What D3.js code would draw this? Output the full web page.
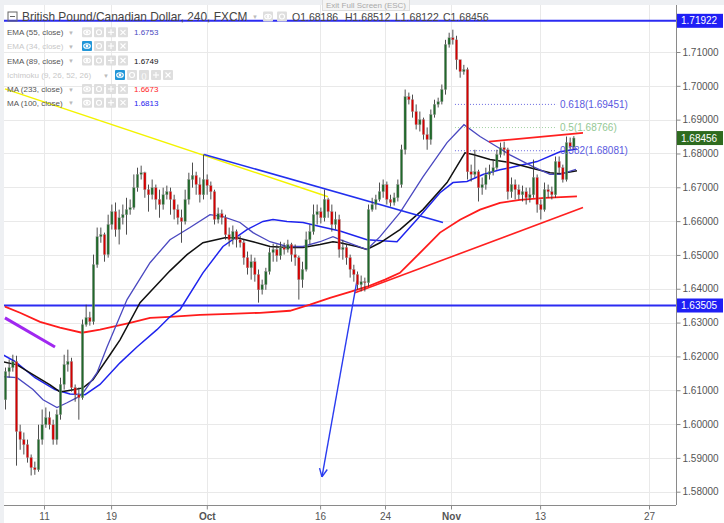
<!DOCTYPE html>
<html><head><meta charset="utf-8">
<script src="https://cdn.jsdelivr.net/npm/d3@7"></script>
<style>body{margin:0;background:#fff;} svg{display:block;font-family:"Liberation Sans",Arial,sans-serif;}</style>
</head><body><svg id="c" width="724" height="523"></svg>
<script>
// ---------- DATA ----------
const title = "British Pound/Canadian Dollar, 240, FXCM";
const ohlcItems = ["O1.68186","H1.68512","L1.68122","C1.68456"];
const startDay = -3.5, candlesPerDay = 3;   // trading-day index of first candle (Sep 11 = 0)
const firstOpen = 1.6072;
const closes = [
1.6155,1.6167,1.6185,1.5978,1.5954,1.5939,1.5901,1.5871,1.5865,1.5954,
1.5998,1.6019,1.5998,1.5954,1.6028,1.6117,1.6176,1.6185,1.6108,1.6087,
1.6078,1.6294,1.6315,1.6303,1.6471,1.6554,1.6560,1.6501,1.6590,1.6628,
1.6575,1.6610,1.6619,1.6634,1.6640,1.6699,1.6738,1.6743,1.6693,1.6678,
1.6699,1.6664,1.6649,1.6678,1.6687,1.6664,1.6634,1.6610,1.6599,1.6664,
1.6723,1.6735,1.6708,1.6678,1.6723,1.6705,1.6687,1.6605,1.6622,1.6610,
1.6560,1.6545,1.6569,1.6545,1.6536,1.6492,1.6462,1.6480,1.6442,1.6397,
1.6412,1.6451,1.6507,1.6516,1.6498,1.6522,1.6516,1.6531,1.6501,1.6492,
1.6427,1.6457,1.6545,1.6569,1.6619,1.6628,1.6610,1.6664,1.6628,1.6590,
1.6605,1.6516,1.6522,1.6492,1.6457,1.6442,1.6412,1.6421,1.6418,1.6634,
1.6649,1.6664,1.6687,1.6708,1.6664,1.6655,1.6669,1.6708,1.6811,1.6968,
1.6959,1.6924,1.6885,1.6900,1.6856,1.6841,1.6915,1.6945,1.6953,1.6989,
1.7122,1.7142,1.7136,1.7077,1.7042,1.7048,1.6746,1.6738,1.6746,1.6699,
1.6708,1.6738,1.6746,1.6758,1.6797,1.6817,1.6811,1.6687,1.6708,1.6693,
1.6678,1.6687,1.6669,1.6678,1.6729,1.6649,1.6634,1.6693,1.6687,1.6678,
1.6776,1.6758,1.6723,1.6832,1.6819,1.68456];
const highs = [
1.6167,1.6191,1.6205,1.6202,1.5998,1.5975,1.5954,1.5910,1.5889,1.5998,
1.6043,1.6049,1.6037,1.6013,1.6043,1.6137,1.6205,1.6220,1.6196,1.6117,
1.6108,1.6309,1.6353,1.6332,1.6501,1.6581,1.6581,1.6566,1.6619,1.6649,
1.6655,1.6634,1.6649,1.6669,1.6664,1.6738,1.6758,1.6764,1.6746,1.6708,
1.6723,1.6708,1.6693,1.6699,1.6705,1.6699,1.6678,1.6649,1.6634,1.6693,
1.6743,1.6773,1.6746,1.6729,1.6797,1.6738,1.6717,1.6693,1.6640,1.6634,
1.6619,1.6581,1.6587,1.6575,1.6557,1.6545,1.6510,1.6501,1.6492,1.6457,
1.6427,1.6462,1.6522,1.6533,1.6531,1.6539,1.6536,1.6545,1.6536,1.6531,
1.6498,1.6480,1.6569,1.6590,1.6649,1.6649,1.6640,1.6693,1.6669,1.6649,
1.6628,1.6619,1.6545,1.6531,1.6501,1.6471,1.6451,1.6439,1.6433,1.6649,
1.6669,1.6678,1.6714,1.6723,1.6717,1.6678,1.6684,1.6723,1.6826,1.6989,
1.6980,1.6974,1.6945,1.6924,1.6906,1.6877,1.6930,1.6959,1.6965,1.7004,
1.7136,1.7157,1.7166,1.7148,1.7077,1.7062,1.7054,1.6767,1.6811,1.6752,
1.6729,1.6758,1.6767,1.6782,1.6811,1.6832,1.6835,1.6817,1.6729,1.6723,
1.6708,1.6705,1.6699,1.6699,1.6782,1.6738,1.6664,1.6714,1.6708,1.6702,
1.6791,1.6791,1.6767,1.6850,1.6847,1.68512];
const lows = [
1.6043,1.6137,1.6155,1.5877,1.5924,1.5910,1.5886,1.5848,1.5850,1.5859,
1.5939,1.5989,1.5984,1.5939,1.5939,1.6013,1.6102,1.6155,1.6096,1.6066,
1.6013,1.6072,1.6288,1.6291,1.6294,1.6462,1.6536,1.6480,1.6492,1.6575,
1.6554,1.6531,1.6590,1.6560,1.6619,1.6634,1.6687,1.6723,1.6669,1.6628,
1.6664,1.6634,1.6610,1.6634,1.6664,1.6619,1.6605,1.6590,1.6536,1.6590,
1.6649,1.6699,1.6678,1.6655,1.6664,1.6678,1.6664,1.6590,1.6593,1.6590,
1.6545,1.6525,1.6531,1.6522,1.6522,1.6471,1.6442,1.6427,1.6421,1.6359,
1.6383,1.6397,1.6442,1.6480,1.6480,1.6486,1.6501,1.6507,1.6480,1.6468,
1.6368,1.6403,1.6451,1.6531,1.6560,1.6590,1.6593,1.6599,1.6610,1.6569,
1.6575,1.6492,1.6486,1.6471,1.6433,1.6421,1.6397,1.6392,1.6392,1.6406,
1.6628,1.6634,1.6658,1.6669,1.6649,1.6643,1.6646,1.6658,1.6699,1.6797,
1.6945,1.6906,1.6871,1.6865,1.6841,1.6811,1.6826,1.6906,1.6936,1.6945,
1.6974,1.7113,1.7122,1.7048,1.7024,1.7033,1.6723,1.6717,1.6729,1.6658,
1.6678,1.6693,1.6723,1.6735,1.6752,1.6788,1.6794,1.6664,1.6669,1.6664,
1.6664,1.6658,1.6649,1.6655,1.6669,1.6625,1.6605,1.6628,1.6669,1.6664,
1.6669,1.6738,1.6714,1.6717,1.6811,1.68122];

// indicator lines: [trading day, price]
const ema55 = [[-3.73,1.6140],[-2.45,1.6137],[-1.0,1.6102],[-0.09,1.6072],[1.18,1.6049],[2.09,1.6063],[3.0,1.6078],[3.55,1.6092],[4.82,1.6152],[5.73,1.6228],[7.55,1.6368],[9.64,1.6477],[11.45,1.6545],[13.27,1.6581],[15.09,1.6619],[16.27,1.6613],[17.82,1.6596],[19.0,1.6566],[20.55,1.6539],[22.09,1.6525],[23.55,1.6525],[25.09,1.6539],[26.27,1.6554],[26.91,1.6545],[29.36,1.6516],[30.55,1.6554],[32.36,1.6625],[34.45,1.6731],[36.64,1.6832],[38.18,1.6885],[39.64,1.6850],[41.18,1.6820],[42.36,1.6796],[44.45,1.6761],[46.0,1.6738],[46.91,1.6738],[48.36,1.6753]];
const ema89 = [[-3.73,1.6184],[-2.45,1.6175],[-1.0,1.6146],[0.55,1.6116],[1.45,1.6095],[2.55,1.6101],[3.55,1.6107],[4.45,1.6131],[6.0,1.6205],[6.91,1.6249],[8.73,1.6359],[11.45,1.6453],[13.0,1.6501],[14.45,1.6536],[16.45,1.6551],[17.55,1.6551],[19.0,1.6539],[20.55,1.6525],[22.09,1.6522],[23.55,1.6522],[25.09,1.6531],[26.27,1.6539],[26.91,1.6536],[28.45,1.6525],[29.36,1.6516],[30.55,1.6536],[32.36,1.6575],[34.45,1.6634],[36.64,1.6714],[38.27,1.6802],[39.0,1.6797],[40.55,1.6782],[42.36,1.6773],[44.18,1.6758],[46.0,1.6743],[46.91,1.6740],[48.45,1.6749]];
const ma100 = [[-3.73,1.6205],[-2.64,1.6185],[-0.82,1.6137],[1.0,1.6102],[2.36,1.6089],[3.73,1.6087],[5.09,1.6117],[6.91,1.6181],[8.45,1.6228],[10.27,1.6279],[11.45,1.6317],[12.36,1.6338],[14.45,1.6447],[16.27,1.6525],[18.45,1.6575],[19.91,1.6599],[20.82,1.6605],[22.09,1.6599],[23.55,1.6596],[25.09,1.6584],[26.91,1.6571],[29.36,1.6545],[32.09,1.6539],[33.91,1.6605],[36.0,1.6684],[37.18,1.6714],[38.45,1.6717],[39.91,1.6738],[41.45,1.6752],[42.36,1.6758],[44.82,1.6776],[46.91,1.6805],[48.45,1.6813]];
const ma233 = [[-3.55,1.6347],[-2.18,1.6329],[-0.36,1.6302],[1.45,1.6285],[3.45,1.6270],[5.09,1.6279],[7.82,1.6299],[9.64,1.6314],[11.45,1.6317],[14.18,1.6323],[16.91,1.6326],[19.64,1.6329],[22.36,1.6335],[24.18,1.6353],[26.0,1.6373],[27.82,1.6391],[29.36,1.6406],[31.0,1.6427],[32.36,1.6447],[34.45,1.6515],[36.0,1.6566],[37.82,1.6604],[39.64,1.6634],[41.45,1.6654],[43.27,1.6663],[45.55,1.6669],[48.45,1.6673]];

// drawings
const yellowLine = [[-3.55,1.6991],[25.82,1.6672]];
const blueTrend = [[14.55,1.6797],[36.27,1.6596]];
const purpleLine = [[-3.55,1.6314],[1.0,1.6228]];
const redSupport = [[28.27,1.6388],[49.0,1.6640]];
const redResist = [[40.45,1.6835],[49.0,1.6861]];
const arrowLine = [[28.45,1.6424],[25.27,1.5844]];
const hLevels = [1.71922, 1.63505];
const lastPrice = 1.68456;
const fibLevels = [0.618, 0.5, 0.382];
const fibPrices = [1.69451, 1.68766, 1.68081];
const fibSpan = [37.36, 46.64];

const xTickDays = [0, 6.1, 14.8, 25.1, 31, 37, 45.1, 55];
const xTickLabels = ['11','19','Oct','16','24','Nov','13','27'];
const yTicks = [1.58,1.59,1.60,1.61,1.62,1.63,1.64,1.65,1.66,1.67,1.68,1.69,1.70,1.71];

const legendNames = ['EMA (55, close)','EMA (34, close)','EMA (89, close)','Ichimoku (9, 26, 52, 26)','MA (233, close)','MA (100, close)'];
const legendValues = ['1.6753','','1.6749','','1.6673','1.6813'];

// ---------- CHART ----------
const svg = d3.select('#c');
const L=4, R=676, T=5, B=505;
const x = d3.scaleLinear().domain([0,55]).range([44,649]);
const y = d3.scaleLinear().domain([1.58,1.71]).range([491.7,52]);

svg.append('rect').attr('width',724).attr('height',523).attr('fill','#fff');
svg.append('rect').attr('x',0).attr('y',0).attr('width',724).attr('height',T).attr('fill','#eef0f3');
svg.append('rect').attr('x',0).attr('y',0).attr('width',L).attr('height',523).attr('fill','#eef0f3');

// grid
const grid = svg.append('g');
grid.selectAll('.hg').data(yTicks).enter().append('line')
  .attr('x1',L).attr('x2',R).attr('y1',d=>Math.round(y(d))+0.5).attr('y2',d=>Math.round(y(d))+0.5)
  .attr('stroke','#e9e9e9').attr('stroke-width',1);
grid.selectAll('.vg').data(xTickDays).enter().append('line')
  .attr('y1',T).attr('y2',B).attr('x1',d=>Math.round(x(d))+0.5).attr('x2',d=>Math.round(x(d))+0.5)
  .attr('stroke','#e9e9e9').attr('stroke-width',1);

svg.append('clipPath').attr('id','clip').append('rect').attr('x',L).attr('y',T).attr('width',R-L).attr('height',B-T);
const plot = svg.append('g').attr('clip-path','url(#clip)');

const line = d3.line().x(d=>x(d[0])).y(d=>y(d[1]));

// horizontal levels
plot.selectAll('.hl').data(hLevels).enter().append('line')
  .attr('x1',L).attr('x2',R).attr('y1',d=>y(d)).attr('y2',d=>y(d))
  .attr('stroke','#2b2bf2').attr('stroke-width',2);

// fib
const fibColors = ['#6a6ae0','#9fd09f','#6a6ae0'];
plot.selectAll('.fl').data(fibPrices).enter().append('line')
  .attr('x1',x(fibSpan[0])).attr('x2',x(fibSpan[1])).attr('y1',d=>y(d)).attr('y2',d=>y(d))
  .attr('stroke',(d,i)=>fibColors[i]).attr('stroke-width',1).attr('stroke-dasharray','1,2');

// moving averages
plot.append('path').datum(ma233).attr('d',line).attr('fill','none').attr('stroke','#ff1c1c').attr('stroke-width',1.8);
plot.append('path').datum(ma100).attr('d',line).attr('fill','none').attr('stroke','#1f24ee').attr('stroke-width',1.5);
plot.append('path').datum(ema89).attr('d',line).attr('fill','none').attr('stroke','#111').attr('stroke-width',1.5);
plot.append('path').datum(ema55).attr('d',line).attr('fill','none').attr('stroke','#4a48c0').attr('stroke-width',1.3);

// drawings
plot.append('path').datum(yellowLine).attr('d',line).attr('stroke','#f3f300').attr('stroke-width',1.5);
plot.append('path').datum(blueTrend).attr('d',line).attr('stroke','#2230ee').attr('stroke-width',1.6);
plot.append('path').datum(purpleLine).attr('d',line).attr('stroke','#a028f0').attr('stroke-width',3);
plot.append('path').datum(redSupport).attr('d',line).attr('stroke','#ff2020').attr('stroke-width',1.6);
plot.append('path').datum(redResist).attr('d',line).attr('stroke','#ff2020').attr('stroke-width',1.6);
plot.append('path').datum(arrowLine).attr('d',line).attr('stroke','#2a3cf0').attr('stroke-width',1.4);
// arrow head
{
  const x0=x(arrowLine[0][0]), y0=y(arrowLine[0][1]), x1=x(arrowLine[1][0]), y1=y(arrowLine[1][1]);
  const a=Math.atan2(y1-y0,x1-x0), len=9;
  [-0.45,0.45].forEach(s=>{
    plot.append('line').attr('x1',x1).attr('y1',y1)
      .attr('x2',x1-len*Math.cos(a+s)).attr('y2',y1-len*Math.sin(a+s))
      .attr('stroke','#2a3cf0').attr('stroke-width',1.4);
  });
}

// candles
const candles = closes.map((c,i)=>({t:startDay+i/candlesPerDay, o:i?closes[i-1]:firstOpen, h:highs[i], l:lows[i], c}));
const cg = plot.append('g');
cg.selectAll('.wick').data(candles).enter().append('line')
  .attr('x1',d=>x(d.t)).attr('x2',d=>x(d.t)).attr('y1',d=>y(d.h)).attr('y2',d=>y(d.l))
  .attr('stroke','#3a3a3a').attr('stroke-width',0.9);
cg.selectAll('.body').data(candles).enter().append('rect')
  .attr('x',d=>x(d.t)-1.2).attr('width',2.4)
  .attr('y',d=>y(Math.max(d.o,d.c))).attr('height',d=>Math.max(1,Math.abs(y(d.o)-y(d.c))))
  .attr('fill',d=>d.c>=d.o?'#21692b':'#d60000').attr('stroke','#999').attr('stroke-width',0.4);

// fib labels
svg.selectAll('.fibt').data(fibPrices).enter().append('text')
  .attr('x',560).attr('y',d=>y(d)+3.5).attr('font-size',10).attr('fill',(d,i)=>i===1?'#94c894':'#5a5ae0')
  .text((d,i)=>fibLevels[i]+'('+d.toFixed(5)+')');

// axes
svg.append('line').attr('x1',R+0.5).attr('x2',R+0.5).attr('y1',T).attr('y2',B).attr('stroke','#8a8a8a');
svg.append('line').attr('x1',L).attr('x2',R).attr('y1',B+0.5).attr('y2',B+0.5).attr('stroke','#8a8a8a');
const ya = svg.append('g').attr('transform',`translate(${R+0.5},0)`)
  .call(d3.axisRight(y).tickValues(yTicks).tickFormat(d=>d.toFixed(5)).tickSize(4).tickPadding(2));
ya.select('.domain').remove();
ya.selectAll('line').attr('stroke','#8a8a8a');
ya.selectAll('text').attr('fill','#555').attr('font-size',10).attr('font-family','Liberation Sans, Arial, sans-serif');
const xa = svg.append('g').attr('transform',`translate(0,${B+0.5})`)
  .call(d3.axisBottom(x).tickValues(xTickDays).tickFormat((d,i)=>xTickLabels[i]).tickSize(4).tickPadding(3));
xa.select('.domain').remove();
xa.selectAll('line').attr('stroke','#8a8a8a');
xa.selectAll('text').attr('fill','#555').attr('font-size',10).attr('font-family','Liberation Sans, Arial, sans-serif')
  .attr('font-weight',(d,i)=>(xTickLabels[i]==='Oct'||xTickLabels[i]==='Nov')?'bold':'normal');

// price label boxes
const boxes = [{p:hLevels[0],c:'#1f1ff5'},{p:lastPrice,c:'#2e6b1f'},{p:hLevels[1],c:'#1f1ff5'}];
boxes.forEach(b=>{
  const yy=y(b.p);
  svg.append('rect').attr('x',R+1).attr('y',yy-7).attr('width',46).attr('height',14).attr('fill',b.c);
  svg.append('text').attr('x',R+5).attr('y',yy+3.5).attr('font-size',10).attr('fill','#fff').text(b.p.toFixed(5));
});

// header
svg.append('rect').attr('x',8).attr('y',12).attr('width',9).attr('height',9).attr('fill','none').attr('stroke','#666');
svg.append('line').attr('x1',10).attr('x2',15).attr('y1',16.5).attr('y2',16.5).attr('stroke','#666');
svg.append('text').attr('x',22).attr('y',21).attr('font-size',11.9).attr('fill','#444').text(title);
svg.append('text').attr('x',252).attr('y',19).attr('font-size',6).attr('fill','#bbb').text('▼');
function icon(xx,yy,kind,active){
  svg.append('rect').attr('x',xx).attr('y',yy-5).attr('width',10).attr('height',10).attr('rx',1)
    .attr('fill',active?'#2196d8':'#dedede');
  const g=svg.append('g').attr('stroke','#fff').attr('fill','none').attr('stroke-width',1.1);
  const cx=xx+5, cy=yy;
  if(kind==='eye'){g.append('ellipse').attr('cx',cx).attr('cy',cy).attr('rx',3.3).attr('ry',2.3);g.append('circle').attr('cx',cx).attr('cy',cy).attr('r',0.9).attr('fill','#fff');}
  else if(kind==='gear'){g.append('circle').attr('cx',cx).attr('cy',cy).attr('r',2.5);}
  else if(kind==='plus'){g.append('line').attr('x1',cx-3).attr('x2',cx+3).attr('y1',cy).attr('y2',cy);g.append('line').attr('x1',cx).attr('x2',cx).attr('y1',cy-3).attr('y2',cy+3);}
  else if(kind==='x'){g.append('line').attr('x1',cx-2.5).attr('x2',cx+2.5).attr('y1',cy-2.5).attr('y2',cy+2.5);g.append('line').attr('x1',cx-2.5).attr('x2',cx+2.5).attr('y1',cy+2.5).attr('y2',cy-2.5);}
  else if(kind==='par'){g.append('text').attr('x',cx).attr('y',cy+3).attr('text-anchor','middle').attr('font-size',8).attr('fill','#fff').attr('stroke','none').text('()');}
}
icon(263,16.5,'eye',false); icon(277,16.5,'gear',false);
const ohlcX = [292, 345, 395, 443];
ohlcItems.forEach((t,i)=>svg.append('text').attr('x',ohlcX[i]).attr('y',21).attr('font-size',10.5).attr('fill','#444').text(t));

// exit full screen
svg.append('rect').attr('x',322.5).attr('y',-1).attr('width',87).attr('height',11.5).attr('fill','#f4f4f4').attr('stroke','#ddd');
svg.append('text').attr('x',366).attr('y',8).attr('text-anchor','middle').attr('font-size',8).attr('fill','#aaa').text('Exit Full Screen (ESC)');

// legend
const rowY = [32.3, 46, 60.5, 75, 89, 102.7];
const valColors = ['#4a48c0','','#111','','#ff1c1c','#1f24ee'];
legendNames.forEach((n,i)=>{
  const dis = (i===1||i===3);
  svg.append('text').attr('x',7).attr('y',rowY[i]+3).attr('font-size',8).attr('fill',dis?'#c8c8c8':'#555').text(n);
  const cx = i===3?103:68;
  svg.append('text').attr('x',cx).attr('y',rowY[i]+2.5).attr('font-size',6).attr('fill','#bbb').text('▼');
  const ix = i===3?115:82;
  const kinds = i===3?['eye','gear','par','plus','x']:['eye','gear','plus','x'];
  kinds.forEach((k,j)=>icon(ix+j*12,rowY[i],k,dis&&j===0));
  if(legendValues[i]) svg.append('text').attr('x',134).attr('y',rowY[i]+3).attr('font-size',8).attr('fill',valColors[i]).text(legendValues[i]);
});
</script></body></html>
